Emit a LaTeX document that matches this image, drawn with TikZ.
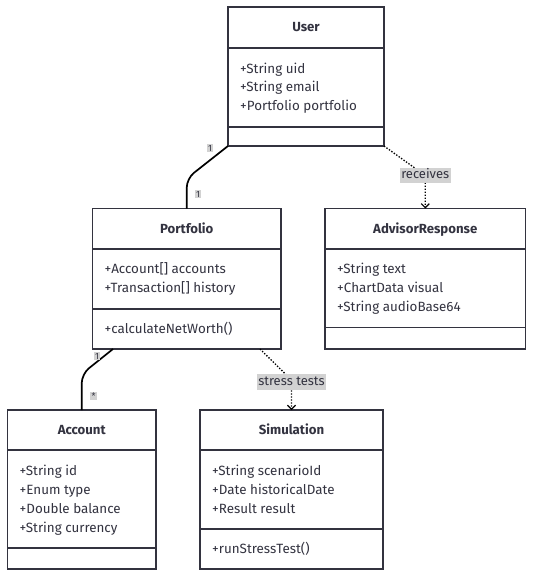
\documentclass[tikz,border=0pt]{standalone}
\usepackage{fontspec}
\setmainfont{Fira Sans}
\usetikzlibrary{arrows.meta,calc}
\definecolor{ln}{HTML}{33333F}
\definecolor{lbl}{HTML}{D2D2D2}
\definecolor{tx}{HTML}{333340}
\begin{document}
\begin{tikzpicture}[x=1pt,y=-1pt,
  cls/.style={draw=ln, line width=1.6pt, fill=white, inner sep=0pt, outer sep=0pt},
  divline/.style={draw=ln, line width=1.6pt},
  ttl/.style={font=\bfseries\fontsize{13.2}{15}\selectfont, text=tx, inner sep=0pt, text height=9.5pt, text depth=3pt},
  attr/.style={font=\fontsize{13.4}{15}\selectfont, text=tx, anchor=west, inner sep=0pt, text height=9.5pt, text depth=3pt},
  assoc/.style={draw=black, line width=1.7pt, rounded corners=9pt},
  dep/.style={draw=black, line width=1.3pt, dash pattern=on 1.4pt off 1.6pt, rounded corners=4pt},
  depend/.style={dep, -{Straight Barb[length=4pt,width=8pt,line width=1.2pt]}},
  lab/.style={fill=lbl, text=tx, font=\fontsize{13}{15}\selectfont, inner xsep=1.5pt, inner ysep=1.5pt, text height=9.5pt, text depth=3pt},
  mult/.style={fill=lbl, text=tx, font=\fontsize{9}{10}\selectfont, inner sep=1.2pt}
]
\useasboundingbox (0,0) rectangle (533,573);

% User
\node[cls, minimum width=156pt, minimum height=139pt] (user) at (306,76.5) {};
\draw[divline] (user.west |- 0,48) -- (user.east |- 0,48);
\draw[divline] (user.west |- 0,127) -- (user.east |- 0,127);
\node[ttl] (userT) at (306,28) {User};
\node[attr] (userA1) at (240,70) {+String uid};
\node[attr] (userA2) at (240,88.5) {+String email};
\node[attr] (userA3) at (240,107) {+Portfolio portfolio};

% Portfolio
\node[cls, minimum width=188.5pt, minimum height=140.5pt] (port) at (186.75,278.75) {};
\draw[divline] (port.west |- 0,249) -- (port.east |- 0,249);
\draw[divline] (port.west |- 0,309) -- (port.east |- 0,309);
\node[ttl] (portT) at (186.75,230) {Portfolio};
\node[attr] (portA1) at (104.5,270) {+Account[] accounts};
\node[attr] (portA2) at (104.5,289) {+Transaction[] history};
\node[attr] (portM1) at (104.5,330) {+calculateNetWorth()};

% AdvisorResponse
\node[cls, minimum width=200.5pt, minimum height=140.5pt] (adv) at (425.25,278.75) {};
\draw[divline] (adv.west |- 0,249) -- (adv.east |- 0,249);
\draw[divline] (adv.west |- 0,327.5) -- (adv.east |- 0,327.5);
\node[ttl] (advT) at (425.25,230) {AdvisorResponse};
\node[attr] (advA1) at (337,270) {+String text};
\node[attr] (advA2) at (337,289) {+ChartData visual};
\node[attr] (advA3) at (337,308) {+String audioBase64};

% Account
\node[cls, minimum width=148.5pt, minimum height=159pt] (acc) at (81.75,489.5) {};
\draw[divline] (acc.west |- 0,450) -- (acc.east |- 0,450);
\draw[divline] (acc.west |- 0,548) -- (acc.east |- 0,548);
\node[ttl] (accT) at (81.75,431) {Account};
\node[attr] (accA1) at (19.5,472) {+String id};
\node[attr] (accA2) at (19.5,491) {+Enum type};
\node[attr] (accA3) at (19.5,510) {+Double balance};
\node[attr] (accA4) at (19.5,529) {+String currency};

% Simulation
\node[cls, minimum width=183pt, minimum height=159pt] (sim) at (291.5,489.5) {};
\draw[divline] (sim.west |- 0,450) -- (sim.east |- 0,450);
\draw[divline] (sim.west |- 0,529) -- (sim.east |- 0,529);
\node[ttl] (simT) at (291.5,431) {Simulation};
\node[attr] (simA1) at (212,472) {+String scenarioId};
\node[attr] (simA2) at (212,491) {+Date historicalDate};
\node[attr] (simA3) at (212,510) {+Result result};
\node[attr] (simM1) at (212,550) {+runStressTest()};

% Connectors
\coordinate (b1) at ($(port.north)+(0,-30)$);
\draw[assoc] (user.south west) -- (b1) -- (port.north);
\node[mult] (m1) at (210,148) {1};
\node[mult] (m2) at (198,194) {1};

\coordinate (ps) at ($(port.south west)+(20.5,0)$);
\coordinate (b2) at ($(acc.north)+(0,-36)$);
\draw[assoc] (ps) -- (b2) -- (acc.north);
\node[mult] (m3) at (97,356) {1};
\node[mult, inner ysep=0.5pt] (m4) at (93.5,396) {*};

\coordinate (b3) at ($(adv.north)+(0,-33)$);
\draw[depend] (user.south east) -- (b3) -- (adv.north);
\node[lab] (l1) at (b3) {receives};

\coordinate (pe) at ($(port.south west)+(167.5,0)$);
\coordinate (b4) at ($(sim.north)+(0,-30)$);
\draw[depend] (pe) -- (b4) -- (sim.north);
\node[lab] (l2) at ($(b4)+(0,2)$) {stress tests};
\end{tikzpicture}
\end{document}
